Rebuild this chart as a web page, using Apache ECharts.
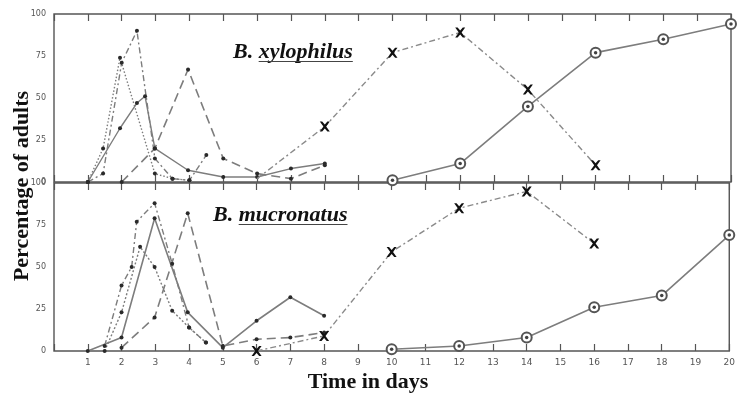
<!DOCTYPE html>
<html>
<head>
<meta charset="utf-8">
<script src="https://cdn.jsdelivr.net/npm/echarts@6/dist/echarts.min.js"></script>
<style>
  html, body { margin: 0; padding: 0; background: #fff; }
  #chart { width: 738px; height: 398px; }
</style>
</head>
<body>
<div id="chart"></div>
<script>
// Day ticks along the shared time axis
const dayTicks = [1,2,3,4,5,6,7,8,9,10,11,12,13,14,15,16,17,18,19,20];
const pctTicks = [0,25,50,75,100];

// B. xylophilus: [day, % adults]
const xySolid    = [[1,0],[1.95,32],[2.45,47],[2.69,51],[2.98,20],[3.96,7],[5,3],[6,3],[7,8],[8,11]];
const xyDotted   = [[1,0],[1.45,20],[1.95,74],[2.98,5],[3.5,2],[4,1]];
const xyDashDot  = [[1,0],[1.45,5],[2,71],[2.45,90],[2.98,14],[3.5,2],[4,1],[4.5,16]];
const xyLongDash = [[2,0],[2.98,20],[3.96,67],[5,14],[6,5],[7,2],[8,10]];
const xyCross    = [[6,2],[8,33],[10,77],[12,89],[14,55],[16,10]];
const xyRing     = [[10,1],[12,11],[14,45],[16,77],[18,85],[20,94]];

// B. mucronatus: [day, % adults]
const mcSolid    = [[1,0],[2,8],[2.98,79],[3.96,23],[5,2],[6,18],[7,32],[8,21]];
const mcDashDot  = [[1.5,3],[2,39],[2.3,50],[2.45,77],[2.98,88],[3.5,52],[4,14],[4.5,5]];
const mcDotted   = [[1.5,0],[2,23],[2.55,62],[2.98,50],[3.5,24],[4,14],[4.5,5]];
const mcLongDash = [[2,2],[2.98,20],[3.96,82],[5,3],[6,7],[7,8],[8,11]];
const mcCross    = [[6,0],[8,9],[10,59],[12,85],[14,95],[16,64]];
const mcRing     = [[10,1],[12,3],[14,8],[16,26],[18,33],[20,69]];

const LINE = '#7d7d7d';
const DARK = '#2a2a2a';
const CROSS = 'path://M0,0 L2.4,0 L5,3 L7.6,0 L10,0 L6.4,5 L10,10 L7.6,10 L5,7 L2.4,10 L0,10 L3.6,5 Z';

function dotLine(data, panel, type, width) {
  return {
    type: 'line', xAxisIndex: panel * 2, yAxisIndex: panel, data: data,
    lineStyle: { color: LINE, width: width || 1.4, type: type },
    symbol: 'circle', symbolSize: 4,
    itemStyle: { color: DARK }, animation: false, z: 3
  };
}
function crossLine(data, panel, firstHidden) {
  const d = data.map((p, i) => (i === 0 && firstHidden) ? { value: p, symbol: 'none' } : p);
  return {
    type: 'line', xAxisIndex: panel * 2, yAxisIndex: panel, data: d,
    lineStyle: { color: '#8a8a8a', width: 1.4, type: [6, 3, 2, 3] },
    symbol: CROSS, symbolSize: 10,
    itemStyle: { color: '#111' }, animation: false, z: 4
  };
}
function ringLine(data, panel) {
  return [{
    type: 'line', xAxisIndex: panel * 2, yAxisIndex: panel, data: data,
    lineStyle: { color: LINE, width: 1.6 },
    symbol: 'emptyCircle', symbolSize: 10,
    itemStyle: { color: '#555', borderColor: '#555', borderWidth: 1.6 },
    animation: false, z: 4
  }, {
    type: 'scatter', xAxisIndex: panel * 2, yAxisIndex: panel, data: data,
    symbol: 'circle', symbolSize: 3.5, itemStyle: { color: '#111' },
    animation: false, z: 5
  }];
}

function xAxes(grid, withLabels) {
  const base = {
    type: 'value', gridIndex: grid, min: 0, max: 20, interval: 1,
    splitLine: { show: false }, axisLine: { show: false },
    axisTick: { show: true, inside: true, length: 7, lineStyle: { color: '#555', width: 1.2 } }
  };
  return [
    Object.assign({}, base, {
      position: 'bottom',
      axisLabel: withLabels ? {
        show: true, fontSize: 9, color: '#555', margin: 7, fontFamily: 'DejaVu Sans',
        formatter: v => (dayTicks.indexOf(v) >= 0 ? String(v) : '')
      } : { show: false }
    }),
    Object.assign({}, base, { position: 'top', axisLabel: { show: false } })
  ];
}
function yAxis(grid) {
  return {
    type: 'value', gridIndex: grid, min: pctTicks[0], max: pctTicks[pctTicks.length - 1], interval: 25,
    splitLine: { show: false }, axisLine: { show: false }, axisTick: { show: false },
    axisLabel: { fontSize: 8, color: '#555', margin: 8, fontFamily: 'DejaVu Sans' }
  };
}

const chart = echarts.init(document.getElementById('chart'), null, { renderer: 'canvas' });

// Measure title parts so the species name can be underlined
const TITLE_FONT = 'italic bold 22px "Liberation Serif"';
const ctx = document.createElement('canvas').getContext('2d');
ctx.font = TITLE_FONT;
function titleGroup(genus, species, x, baseline) {
  const wG = ctx.measureText(genus).width;
  const wS = ctx.measureText(species).width;
  return [
    { type: 'text', x: x, y: baseline + 4.8, style: { text: genus + species, font: TITLE_FONT, fill: '#111', textAlign: 'left', textVerticalAlign: 'bottom' }, z: 10 },
    { type: 'line', shape: { x1: x + wG, y1: baseline + 2.5, x2: x + wG + wS, y2: baseline + 2.5 }, style: { stroke: '#444', lineWidth: 1.2 }, z: 10 }
  ];
}

chart.setOption({
  backgroundColor: '#fff',
  animation: false,
  grid: [
    { left: 54, right: 7, top: 14, height: 168, show: true, borderColor: '#555', borderWidth: 1.4, backgroundColor: 'transparent' },
    { left: 54, right: 7, top: 183, height: 168, show: true, borderColor: '#555', borderWidth: 1.4, backgroundColor: 'transparent' }
  ],
  xAxis: xAxes(0, false).concat(xAxes(1, true)),
  yAxis: [yAxis(0), yAxis(1)],
  series: [
    dotLine(xySolid, 0, 'solid'),
    dotLine(xyDotted, 0, [1.5, 2]),
    dotLine(xyDashDot, 0, [6, 3, 2, 3]),
    dotLine(xyLongDash, 0, [9, 5], 1.6),
    crossLine(xyCross, 0, true),
    ...ringLine(xyRing, 0),
    dotLine(mcSolid, 1, 'solid', 1.6),
    dotLine(mcDashDot, 1, [6, 3, 2, 3]),
    dotLine(mcDotted, 1, [2, 2]),
    dotLine(mcLongDash, 1, [9, 5], 1.6),
    crossLine(mcCross, 1, false),
    ...ringLine(mcRing, 1)
  ],
  graphic: [
    ...titleGroup('B. ', 'xylophilus', 233, 59),
    ...titleGroup('B. ', 'mucronatus', 213, 222),
    { type: 'text', x: 22, y: 186, rotation: Math.PI / 2,
      style: { text: 'Percentage of adults', font: 'bold 22px "Liberation Serif"', fill: '#111', textAlign: 'center', textVerticalAlign: 'middle' } },
    { type: 'text', x: 368, y: 382,
      style: { text: 'Time in days', font: 'bold 22px "Liberation Serif"', fill: '#111', textAlign: 'center', textVerticalAlign: 'middle' } }
  ]
});
</script>
</body>
</html>
